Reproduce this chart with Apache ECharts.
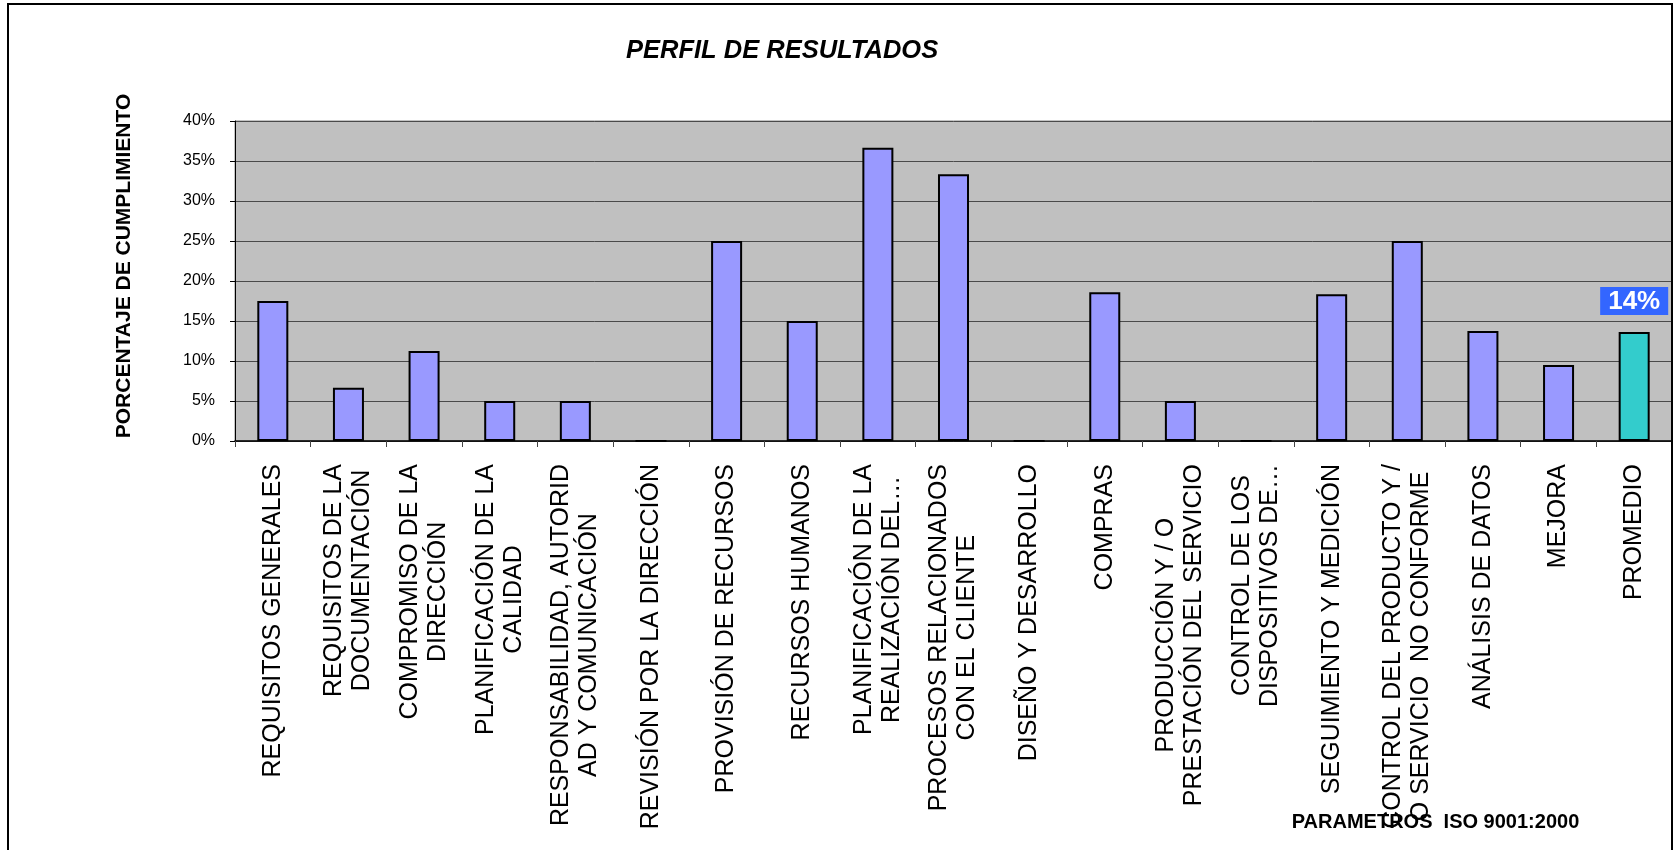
<!DOCTYPE html>
<html><head><meta charset="utf-8">
<script src="https://cdn.jsdelivr.net/npm/echarts@6/dist/echarts.min.js"></script>
<style>html,body{margin:0;padding:0;background:#fff}#c{width:1674px;height:850px}</style>
</head><body><div id="c"></div>
<script>
const categorias = [
  "REQUISITOS GENERALES",
  "REQUISITOS DE LA\nDOCUMENTACIÓN",
  "COMPROMISO DE LA\nDIRECCIÓN",
  "PLANIFICACIÓN DE LA\nCALIDAD",
  "RESPONSABILIDAD, AUTORID\nAD Y COMUNICACIÓN",
  "REVISIÓN POR LA DIRECCIÓN",
  "PROVISIÓN DE RECURSOS",
  "RECURSOS HUMANOS",
  "PLANIFICACIÓN DE LA\nREALIZACIÓN DEL…",
  "PROCESOS RELACIONADOS\nCON EL CLIENTE",
  "DISEÑO Y DESARROLLO",
  "COMPRAS",
  "PRODUCCIÓN Y / O\nPRESTACIÓN DEL SERVICIO",
  "CONTROL DE LOS\nDISPOSITIVOS DE…",
  "SEGUIMIENTO Y MEDICIÓN",
  "CONTROL DEL PRODUCTO Y /\nO SERVICIO  NO CONFORME",
  "ANÁLISIS DE DATOS",
  "MEJORA",
  "PROMEDIO"
];
const valores = [17.5, 6.67, 11.25, 5, 5, 0, 25, 15, 36.67, 33.33, 0, 18.6, 5, 0, 18.33, 25, 13.75, 9.5];
const promedio = 13.64;
const yMin = 0, yMax = 40, yStep = 5;

const FONT = '"Liberation Sans", Arial, sans-serif';
const chart = echarts.init(document.getElementById('c'));

const data = valores.map(v => ({ value: v }));
data.push({
  value: promedio,
  itemStyle: { color: '#33CCCC' },
  label: {
    show: true, position: 'top', distance: 17,
    formatter: p => Math.round(p.value) + '%',
    color: '#fff', fontWeight: 'bold', fontSize: 26, fontFamily: FONT,
    backgroundColor: '#3366FF', padding: [3, 8, 1, 8], lineHeight: 24
  }
});

chart.setOption({
  animation: false,
  backgroundColor: '#fff',
  title: {
    text: 'PERFIL DE RESULTADOS',
    left: 626, top: 38, padding: 0,
    textStyle: { fontFamily: FONT, fontSize: 25.5, fontWeight: 'bold', fontStyle: 'italic', color: '#000' }
  },
  grid: {
    left: 235, top: 121, right: 2, bottom: 409,
    show: true, backgroundColor: '#C0C0C0', borderColor: '#888', borderWidth: 1,
    containLabel: false, outerBoundsMode: 'none'
  },
  xAxis: {
    type: 'category',
    data: categorias,
    name: 'PARAMETROS  ISO 9001:2000',
    nameLocation: 'middle',
    nameGap: 371,
    nameMoveOverlap: false,
    nameTextStyle: { fontFamily: FONT, fontSize: 20, fontWeight: 'bold', color: '#000', padding: [0, 0, 0, 964] },
    axisLine: { lineStyle: { color: '#000', width: 1.5 } },
    axisTick: { show: true, length: 6, alignWithLabel: false, lineStyle: { color: '#444' } },
    axisLabel: {
      interval: 0, rotate: 90, margin: 23,
      formatter: v => v.split('\n').map(s => '{l|' + s + '}').join('\n'),
      rich: { l: { align: 'center', fontFamily: FONT, fontSize: 25, lineHeight: 28, color: '#000' } }
    },
    splitLine: { show: false }
  },
  yAxis: {
    type: 'value', min: yMin, max: yMax, interval: yStep,
    name: 'PORCENTAJE DE CUMPLIMIENTO',
    nameLocation: 'middle', nameRotate: 90, nameGap: 100,
    nameMoveOverlap: false,
    nameTextStyle: { fontFamily: FONT, fontSize: 21, fontWeight: 'bold', color: '#000', padding: [0, 0, 0, 30] },
    axisLine: { show: true, lineStyle: { color: '#000', width: 1 } },
    axisTick: { show: true, length: 5, lineStyle: { color: '#000' } },
    axisLabel: { formatter: '{value}%', margin: 20, fontFamily: FONT, fontSize: 16, color: '#000' },
    splitLine: { show: true, lineStyle: { color: '#4a4a4a', width: 1 } }
  },
  series: [{
    type: 'bar',
    data: data,
    barWidth: '41%',
    itemStyle: { color: '#9999FF', borderColor: '#000', borderWidth: 2 }
  }],
  graphic: [{
    type: 'rect', z: 100, silent: true,
    shape: { x: 8, y: 4, width: 1664, height: 870 },
    style: { fill: 'none', stroke: '#000', lineWidth: 2 }
  }]
});
</script></body></html>
